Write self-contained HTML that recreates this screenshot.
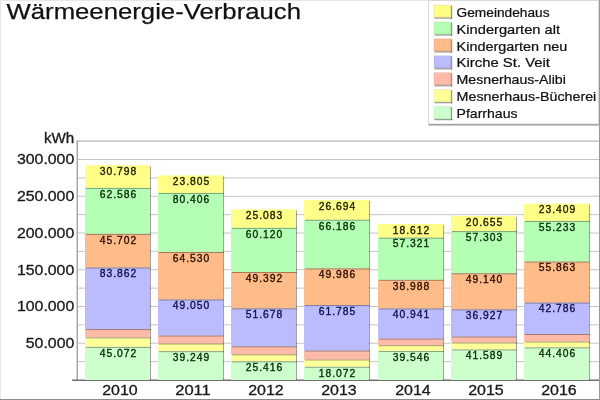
<!DOCTYPE html><html><head><meta charset="utf-8"><style>html,body{margin:0;padding:0;background:#fff;}svg{display:block;will-change:transform;}text{font-family:"Liberation Sans",sans-serif;}</style></head><body>
<svg width="600" height="400" viewBox="0 0 600 400">
<rect x="0" y="0" width="600" height="400" fill="#fff"/>
<rect x="0" y="0" width="600" height="1" fill="#e6e6e6"/>
<rect x="0" y="0" width="1" height="400" fill="#e6e6e6"/>
<rect x="599" y="0" width="1" height="400" fill="#999"/>
<rect x="0" y="399" width="600" height="1" fill="#8c8c8c"/>
<text x="6.5" y="19" font-size="22" fill="#111" stroke="#111" stroke-width="0.25" textLength="294.5" lengthAdjust="spacingAndGlyphs">Wärmeenergie-Verbrauch</text>
<rect x="77" y="140.5" width="522" height="1.2" fill="#b4b4b4"/>
<rect x="77" y="361.12" width="522" height="1" fill="#c6c6c6"/>
<rect x="77" y="342.75" width="522" height="1" fill="#c6c6c6"/>
<rect x="77" y="324.38" width="522" height="1" fill="#c6c6c6"/>
<rect x="77" y="306.00" width="522" height="1" fill="#c6c6c6"/>
<rect x="77" y="287.62" width="522" height="1" fill="#c6c6c6"/>
<rect x="77" y="269.25" width="522" height="1" fill="#c6c6c6"/>
<rect x="77" y="250.88" width="522" height="1" fill="#c6c6c6"/>
<rect x="77" y="232.50" width="522" height="1" fill="#c6c6c6"/>
<rect x="77" y="214.12" width="522" height="1" fill="#c6c6c6"/>
<rect x="77" y="195.75" width="522" height="1" fill="#c6c6c6"/>
<rect x="77" y="177.38" width="522" height="1" fill="#c6c6c6"/>
<rect x="77" y="159.00" width="522" height="1" fill="#c6c6c6"/>
<rect x="76.5" y="140.5" width="1.5" height="240" fill="#a8a8a8"/>
<rect x="72" y="379.5" width="527" height="1.5" fill="#707070"/>
<text x="74.3" y="348.05" font-size="14.2" fill="#1a1a1a" stroke="#1a1a1a" stroke-width="0.3" text-anchor="end" textLength="48.5" lengthAdjust="spacingAndGlyphs">50.000</text>
<text x="74.3" y="311.30" font-size="14.2" fill="#1a1a1a" stroke="#1a1a1a" stroke-width="0.3" text-anchor="end" textLength="57.4" lengthAdjust="spacingAndGlyphs">100.000</text>
<text x="74.3" y="274.55" font-size="14.2" fill="#1a1a1a" stroke="#1a1a1a" stroke-width="0.3" text-anchor="end" textLength="57.4" lengthAdjust="spacingAndGlyphs">150.000</text>
<text x="74.3" y="237.80" font-size="14.2" fill="#1a1a1a" stroke="#1a1a1a" stroke-width="0.3" text-anchor="end" textLength="57.4" lengthAdjust="spacingAndGlyphs">200.000</text>
<text x="74.3" y="201.05" font-size="14.2" fill="#1a1a1a" stroke="#1a1a1a" stroke-width="0.3" text-anchor="end" textLength="57.4" lengthAdjust="spacingAndGlyphs">250.000</text>
<text x="74.3" y="164.30" font-size="14.2" fill="#1a1a1a" stroke="#1a1a1a" stroke-width="0.3" text-anchor="end" textLength="57.4" lengthAdjust="spacingAndGlyphs">300.000</text>
<text x="74.3" y="142.7" font-size="14.2" fill="#1a1a1a" stroke="#1a1a1a" stroke-width="0.3" text-anchor="end" textLength="30.4" lengthAdjust="spacingAndGlyphs">kWh</text>
<rect x="85" y="346.87" width="65" height="33.13" fill="#ccffcc"/>
<rect x="85" y="337.40" width="65" height="9.47" fill="#ffff99"/>
<rect x="85" y="329.10" width="65" height="8.30" fill="#ffbba8"/>
<rect x="85" y="267.46" width="65" height="61.64" fill="#bbbbff"/>
<rect x="85" y="233.87" width="65" height="33.59" fill="#ffbb88"/>
<rect x="85" y="187.87" width="65" height="46.00" fill="#b4ffb4"/>
<rect x="85" y="165.23" width="65" height="22.64" fill="#ffff88"/>
<rect x="150" y="347.87" width="1" height="32.13" fill="#000" fill-opacity="0.36"/>
<rect x="86" y="346.87" width="65" height="1" fill="#000" fill-opacity="0.36"/>
<rect x="150" y="338.40" width="1" height="9.47" fill="#000" fill-opacity="0.36"/>
<rect x="86" y="337.40" width="65" height="1" fill="#000" fill-opacity="0.36"/>
<rect x="150" y="330.10" width="1" height="8.30" fill="#000" fill-opacity="0.36"/>
<rect x="86" y="329.10" width="65" height="1" fill="#000" fill-opacity="0.36"/>
<rect x="150" y="268.46" width="1" height="61.64" fill="#000" fill-opacity="0.36"/>
<rect x="86" y="267.46" width="65" height="1" fill="#000" fill-opacity="0.36"/>
<rect x="150" y="234.87" width="1" height="33.59" fill="#000" fill-opacity="0.36"/>
<rect x="86" y="233.87" width="65" height="1" fill="#000" fill-opacity="0.36"/>
<rect x="150" y="188.87" width="1" height="46.00" fill="#000" fill-opacity="0.36"/>
<rect x="86" y="187.87" width="65" height="1" fill="#000" fill-opacity="0.36"/>
<rect x="150" y="166.23" width="1" height="22.64" fill="#000" fill-opacity="0.36"/>
<text x="118" y="356.67" font-size="10.3" fill="#0a2a0a" stroke="#0a2a0a" stroke-width="0.35" text-anchor="middle" textLength="36.5" lengthAdjust="spacing">45.072</text>
<text x="118" y="277.26" font-size="10.3" fill="#10104a" stroke="#10104a" stroke-width="0.35" text-anchor="middle" textLength="36.5" lengthAdjust="spacing">83.862</text>
<text x="118" y="243.67" font-size="10.3" fill="#2a1000" stroke="#2a1000" stroke-width="0.35" text-anchor="middle" textLength="36.5" lengthAdjust="spacing">45.702</text>
<text x="118" y="197.67" font-size="10.3" fill="#0a2a0a" stroke="#0a2a0a" stroke-width="0.35" text-anchor="middle" textLength="36.5" lengthAdjust="spacing">62.586</text>
<text x="118" y="175.03" font-size="10.3" fill="#1a1a00" stroke="#1a1a00" stroke-width="0.35" text-anchor="middle" textLength="36.5" lengthAdjust="spacing">30.798</text>
<text x="120" y="395" font-size="14.2" fill="#1a1a1a" stroke="#1a1a1a" stroke-width="0.3" text-anchor="middle" textLength="35.5" lengthAdjust="spacingAndGlyphs">2010</text>
<rect x="158" y="351.15" width="65" height="28.85" fill="#ccffcc"/>
<rect x="158" y="343.50" width="65" height="7.65" fill="#ffff99"/>
<rect x="158" y="335.50" width="65" height="8.00" fill="#ffbba8"/>
<rect x="158" y="299.45" width="65" height="36.05" fill="#bbbbff"/>
<rect x="158" y="252.02" width="65" height="47.43" fill="#ffbb88"/>
<rect x="158" y="192.92" width="65" height="59.10" fill="#b4ffb4"/>
<rect x="158" y="175.42" width="65" height="17.50" fill="#ffff88"/>
<rect x="223" y="352.15" width="1" height="27.85" fill="#000" fill-opacity="0.36"/>
<rect x="159" y="351.15" width="65" height="1" fill="#000" fill-opacity="0.36"/>
<rect x="223" y="344.50" width="1" height="7.65" fill="#000" fill-opacity="0.36"/>
<rect x="159" y="343.50" width="65" height="1" fill="#000" fill-opacity="0.36"/>
<rect x="223" y="336.50" width="1" height="8.00" fill="#000" fill-opacity="0.36"/>
<rect x="159" y="335.50" width="65" height="1" fill="#000" fill-opacity="0.36"/>
<rect x="223" y="300.45" width="1" height="36.05" fill="#000" fill-opacity="0.36"/>
<rect x="159" y="299.45" width="65" height="1" fill="#000" fill-opacity="0.36"/>
<rect x="223" y="253.02" width="1" height="47.43" fill="#000" fill-opacity="0.36"/>
<rect x="159" y="252.02" width="65" height="1" fill="#000" fill-opacity="0.36"/>
<rect x="223" y="193.92" width="1" height="59.10" fill="#000" fill-opacity="0.36"/>
<rect x="159" y="192.92" width="65" height="1" fill="#000" fill-opacity="0.36"/>
<rect x="223" y="176.42" width="1" height="17.50" fill="#000" fill-opacity="0.36"/>
<text x="191" y="360.95" font-size="10.3" fill="#0a2a0a" stroke="#0a2a0a" stroke-width="0.35" text-anchor="middle" textLength="36.5" lengthAdjust="spacing">39.249</text>
<text x="191" y="309.25" font-size="10.3" fill="#10104a" stroke="#10104a" stroke-width="0.35" text-anchor="middle" textLength="36.5" lengthAdjust="spacing">49.050</text>
<text x="191" y="261.82" font-size="10.3" fill="#2a1000" stroke="#2a1000" stroke-width="0.35" text-anchor="middle" textLength="36.5" lengthAdjust="spacing">64.530</text>
<text x="191" y="202.72" font-size="10.3" fill="#0a2a0a" stroke="#0a2a0a" stroke-width="0.35" text-anchor="middle" textLength="36.5" lengthAdjust="spacing">80.406</text>
<text x="191" y="185.22" font-size="10.3" fill="#1a1a00" stroke="#1a1a00" stroke-width="0.35" text-anchor="middle" textLength="36.5" lengthAdjust="spacing">23.805</text>
<text x="193" y="395" font-size="14.2" fill="#1a1a1a" stroke="#1a1a1a" stroke-width="0.3" text-anchor="middle" textLength="35.5" lengthAdjust="spacingAndGlyphs">2011</text>
<rect x="231" y="361.32" width="65" height="18.68" fill="#ccffcc"/>
<rect x="231" y="354.30" width="65" height="7.02" fill="#ffff99"/>
<rect x="231" y="346.30" width="65" height="8.00" fill="#ffbba8"/>
<rect x="231" y="308.32" width="65" height="37.98" fill="#bbbbff"/>
<rect x="231" y="272.01" width="65" height="36.30" fill="#ffbb88"/>
<rect x="231" y="227.83" width="65" height="44.19" fill="#b4ffb4"/>
<rect x="231" y="209.39" width="65" height="18.44" fill="#ffff88"/>
<rect x="296" y="362.32" width="1" height="17.68" fill="#000" fill-opacity="0.36"/>
<rect x="232" y="361.32" width="65" height="1" fill="#000" fill-opacity="0.36"/>
<rect x="296" y="355.30" width="1" height="7.02" fill="#000" fill-opacity="0.36"/>
<rect x="232" y="354.30" width="65" height="1" fill="#000" fill-opacity="0.36"/>
<rect x="296" y="347.30" width="1" height="8.00" fill="#000" fill-opacity="0.36"/>
<rect x="232" y="346.30" width="65" height="1" fill="#000" fill-opacity="0.36"/>
<rect x="296" y="309.32" width="1" height="37.98" fill="#000" fill-opacity="0.36"/>
<rect x="232" y="308.32" width="65" height="1" fill="#000" fill-opacity="0.36"/>
<rect x="296" y="273.01" width="1" height="36.30" fill="#000" fill-opacity="0.36"/>
<rect x="232" y="272.01" width="65" height="1" fill="#000" fill-opacity="0.36"/>
<rect x="296" y="228.83" width="1" height="44.19" fill="#000" fill-opacity="0.36"/>
<rect x="232" y="227.83" width="65" height="1" fill="#000" fill-opacity="0.36"/>
<rect x="296" y="210.39" width="1" height="18.44" fill="#000" fill-opacity="0.36"/>
<text x="264" y="371.12" font-size="10.3" fill="#0a2a0a" stroke="#0a2a0a" stroke-width="0.35" text-anchor="middle" textLength="36.5" lengthAdjust="spacing">25.416</text>
<text x="264" y="318.12" font-size="10.3" fill="#10104a" stroke="#10104a" stroke-width="0.35" text-anchor="middle" textLength="36.5" lengthAdjust="spacing">51.678</text>
<text x="264" y="281.81" font-size="10.3" fill="#2a1000" stroke="#2a1000" stroke-width="0.35" text-anchor="middle" textLength="36.5" lengthAdjust="spacing">49.392</text>
<text x="264" y="237.63" font-size="10.3" fill="#0a2a0a" stroke="#0a2a0a" stroke-width="0.35" text-anchor="middle" textLength="36.5" lengthAdjust="spacing">60.120</text>
<text x="264" y="219.19" font-size="10.3" fill="#1a1a00" stroke="#1a1a00" stroke-width="0.35" text-anchor="middle" textLength="36.5" lengthAdjust="spacing">25.083</text>
<text x="266" y="395" font-size="14.2" fill="#1a1a1a" stroke="#1a1a1a" stroke-width="0.3" text-anchor="middle" textLength="35.5" lengthAdjust="spacingAndGlyphs">2012</text>
<rect x="304" y="366.72" width="65" height="13.28" fill="#ccffcc"/>
<rect x="304" y="359.50" width="65" height="7.22" fill="#ffff99"/>
<rect x="304" y="350.50" width="65" height="9.00" fill="#ffbba8"/>
<rect x="304" y="305.09" width="65" height="45.41" fill="#bbbbff"/>
<rect x="304" y="268.35" width="65" height="36.74" fill="#ffbb88"/>
<rect x="304" y="219.70" width="65" height="48.65" fill="#b4ffb4"/>
<rect x="304" y="200.08" width="65" height="19.62" fill="#ffff88"/>
<rect x="369" y="367.72" width="1" height="12.28" fill="#000" fill-opacity="0.36"/>
<rect x="305" y="366.72" width="65" height="1" fill="#000" fill-opacity="0.36"/>
<rect x="369" y="360.50" width="1" height="7.22" fill="#000" fill-opacity="0.36"/>
<rect x="305" y="359.50" width="65" height="1" fill="#000" fill-opacity="0.36"/>
<rect x="369" y="351.50" width="1" height="9.00" fill="#000" fill-opacity="0.36"/>
<rect x="305" y="350.50" width="65" height="1" fill="#000" fill-opacity="0.36"/>
<rect x="369" y="306.09" width="1" height="45.41" fill="#000" fill-opacity="0.36"/>
<rect x="305" y="305.09" width="65" height="1" fill="#000" fill-opacity="0.36"/>
<rect x="369" y="269.35" width="1" height="36.74" fill="#000" fill-opacity="0.36"/>
<rect x="305" y="268.35" width="65" height="1" fill="#000" fill-opacity="0.36"/>
<rect x="369" y="220.70" width="1" height="48.65" fill="#000" fill-opacity="0.36"/>
<rect x="305" y="219.70" width="65" height="1" fill="#000" fill-opacity="0.36"/>
<rect x="369" y="201.08" width="1" height="19.62" fill="#000" fill-opacity="0.36"/>
<text x="337" y="376.52" font-size="10.3" fill="#0a2a0a" stroke="#0a2a0a" stroke-width="0.35" text-anchor="middle" textLength="36.5" lengthAdjust="spacing">18.072</text>
<text x="337" y="314.89" font-size="10.3" fill="#10104a" stroke="#10104a" stroke-width="0.35" text-anchor="middle" textLength="36.5" lengthAdjust="spacing">61.785</text>
<text x="337" y="278.15" font-size="10.3" fill="#2a1000" stroke="#2a1000" stroke-width="0.35" text-anchor="middle" textLength="36.5" lengthAdjust="spacing">49.986</text>
<text x="337" y="229.50" font-size="10.3" fill="#0a2a0a" stroke="#0a2a0a" stroke-width="0.35" text-anchor="middle" textLength="36.5" lengthAdjust="spacing">66.186</text>
<text x="337" y="209.88" font-size="10.3" fill="#1a1a00" stroke="#1a1a00" stroke-width="0.35" text-anchor="middle" textLength="36.5" lengthAdjust="spacing">26.694</text>
<text x="339" y="395" font-size="14.2" fill="#1a1a1a" stroke="#1a1a1a" stroke-width="0.3" text-anchor="middle" textLength="35.5" lengthAdjust="spacingAndGlyphs">2013</text>
<rect x="378" y="350.93" width="65" height="29.07" fill="#ccffcc"/>
<rect x="378" y="345.20" width="65" height="5.73" fill="#ffff99"/>
<rect x="378" y="338.50" width="65" height="6.70" fill="#ffbba8"/>
<rect x="378" y="308.41" width="65" height="30.09" fill="#bbbbff"/>
<rect x="378" y="279.75" width="65" height="28.66" fill="#ffbb88"/>
<rect x="378" y="237.62" width="65" height="42.13" fill="#b4ffb4"/>
<rect x="378" y="223.94" width="65" height="13.68" fill="#ffff88"/>
<rect x="443" y="351.93" width="1" height="28.07" fill="#000" fill-opacity="0.36"/>
<rect x="379" y="350.93" width="65" height="1" fill="#000" fill-opacity="0.36"/>
<rect x="443" y="346.20" width="1" height="5.73" fill="#000" fill-opacity="0.36"/>
<rect x="379" y="345.20" width="65" height="1" fill="#000" fill-opacity="0.36"/>
<rect x="443" y="339.50" width="1" height="6.70" fill="#000" fill-opacity="0.36"/>
<rect x="379" y="338.50" width="65" height="1" fill="#000" fill-opacity="0.36"/>
<rect x="443" y="309.41" width="1" height="30.09" fill="#000" fill-opacity="0.36"/>
<rect x="379" y="308.41" width="65" height="1" fill="#000" fill-opacity="0.36"/>
<rect x="443" y="280.75" width="1" height="28.66" fill="#000" fill-opacity="0.36"/>
<rect x="379" y="279.75" width="65" height="1" fill="#000" fill-opacity="0.36"/>
<rect x="443" y="238.62" width="1" height="42.13" fill="#000" fill-opacity="0.36"/>
<rect x="379" y="237.62" width="65" height="1" fill="#000" fill-opacity="0.36"/>
<rect x="443" y="224.94" width="1" height="13.68" fill="#000" fill-opacity="0.36"/>
<text x="411" y="360.73" font-size="10.3" fill="#0a2a0a" stroke="#0a2a0a" stroke-width="0.35" text-anchor="middle" textLength="36.5" lengthAdjust="spacing">39.546</text>
<text x="411" y="318.21" font-size="10.3" fill="#10104a" stroke="#10104a" stroke-width="0.35" text-anchor="middle" textLength="36.5" lengthAdjust="spacing">40.941</text>
<text x="411" y="289.55" font-size="10.3" fill="#2a1000" stroke="#2a1000" stroke-width="0.35" text-anchor="middle" textLength="36.5" lengthAdjust="spacing">38.988</text>
<text x="411" y="247.42" font-size="10.3" fill="#0a2a0a" stroke="#0a2a0a" stroke-width="0.35" text-anchor="middle" textLength="36.5" lengthAdjust="spacing">57.321</text>
<text x="411" y="233.74" font-size="10.3" fill="#1a1a00" stroke="#1a1a00" stroke-width="0.35" text-anchor="middle" textLength="36.5" lengthAdjust="spacing">18.612</text>
<text x="413" y="395" font-size="14.2" fill="#1a1a1a" stroke="#1a1a1a" stroke-width="0.3" text-anchor="middle" textLength="35.5" lengthAdjust="spacingAndGlyphs">2014</text>
<rect x="451" y="349.43" width="65" height="30.57" fill="#ccffcc"/>
<rect x="451" y="342.50" width="65" height="6.93" fill="#ffff99"/>
<rect x="451" y="336.50" width="65" height="6.00" fill="#ffbba8"/>
<rect x="451" y="309.36" width="65" height="27.14" fill="#bbbbff"/>
<rect x="451" y="273.24" width="65" height="36.12" fill="#ffbb88"/>
<rect x="451" y="231.12" width="65" height="42.12" fill="#b4ffb4"/>
<rect x="451" y="215.94" width="65" height="15.18" fill="#ffff88"/>
<rect x="516" y="350.43" width="1" height="29.57" fill="#000" fill-opacity="0.36"/>
<rect x="452" y="349.43" width="65" height="1" fill="#000" fill-opacity="0.36"/>
<rect x="516" y="343.50" width="1" height="6.93" fill="#000" fill-opacity="0.36"/>
<rect x="452" y="342.50" width="65" height="1" fill="#000" fill-opacity="0.36"/>
<rect x="516" y="337.50" width="1" height="6.00" fill="#000" fill-opacity="0.36"/>
<rect x="452" y="336.50" width="65" height="1" fill="#000" fill-opacity="0.36"/>
<rect x="516" y="310.36" width="1" height="27.14" fill="#000" fill-opacity="0.36"/>
<rect x="452" y="309.36" width="65" height="1" fill="#000" fill-opacity="0.36"/>
<rect x="516" y="274.24" width="1" height="36.12" fill="#000" fill-opacity="0.36"/>
<rect x="452" y="273.24" width="65" height="1" fill="#000" fill-opacity="0.36"/>
<rect x="516" y="232.12" width="1" height="42.12" fill="#000" fill-opacity="0.36"/>
<rect x="452" y="231.12" width="65" height="1" fill="#000" fill-opacity="0.36"/>
<rect x="516" y="216.94" width="1" height="15.18" fill="#000" fill-opacity="0.36"/>
<text x="484" y="359.23" font-size="10.3" fill="#0a2a0a" stroke="#0a2a0a" stroke-width="0.35" text-anchor="middle" textLength="36.5" lengthAdjust="spacing">41.589</text>
<text x="484" y="319.16" font-size="10.3" fill="#10104a" stroke="#10104a" stroke-width="0.35" text-anchor="middle" textLength="36.5" lengthAdjust="spacing">36.927</text>
<text x="484" y="283.04" font-size="10.3" fill="#2a1000" stroke="#2a1000" stroke-width="0.35" text-anchor="middle" textLength="36.5" lengthAdjust="spacing">49.140</text>
<text x="484" y="240.92" font-size="10.3" fill="#0a2a0a" stroke="#0a2a0a" stroke-width="0.35" text-anchor="middle" textLength="36.5" lengthAdjust="spacing">57.303</text>
<text x="484" y="225.74" font-size="10.3" fill="#1a1a00" stroke="#1a1a00" stroke-width="0.35" text-anchor="middle" textLength="36.5" lengthAdjust="spacing">20.655</text>
<text x="486" y="395" font-size="14.2" fill="#1a1a1a" stroke="#1a1a1a" stroke-width="0.3" text-anchor="middle" textLength="35.5" lengthAdjust="spacingAndGlyphs">2015</text>
<rect x="524" y="347.36" width="65" height="32.64" fill="#ccffcc"/>
<rect x="524" y="341.50" width="65" height="5.86" fill="#ffff99"/>
<rect x="524" y="334.00" width="65" height="7.50" fill="#ffbba8"/>
<rect x="524" y="302.55" width="65" height="31.45" fill="#bbbbff"/>
<rect x="524" y="261.49" width="65" height="41.06" fill="#ffbb88"/>
<rect x="524" y="220.90" width="65" height="40.60" fill="#b4ffb4"/>
<rect x="524" y="203.69" width="65" height="17.21" fill="#ffff88"/>
<rect x="589" y="348.36" width="1" height="31.64" fill="#000" fill-opacity="0.36"/>
<rect x="525" y="347.36" width="65" height="1" fill="#000" fill-opacity="0.36"/>
<rect x="589" y="342.50" width="1" height="5.86" fill="#000" fill-opacity="0.36"/>
<rect x="525" y="341.50" width="65" height="1" fill="#000" fill-opacity="0.36"/>
<rect x="589" y="335.00" width="1" height="7.50" fill="#000" fill-opacity="0.36"/>
<rect x="525" y="334.00" width="65" height="1" fill="#000" fill-opacity="0.36"/>
<rect x="589" y="303.55" width="1" height="31.45" fill="#000" fill-opacity="0.36"/>
<rect x="525" y="302.55" width="65" height="1" fill="#000" fill-opacity="0.36"/>
<rect x="589" y="262.49" width="1" height="41.06" fill="#000" fill-opacity="0.36"/>
<rect x="525" y="261.49" width="65" height="1" fill="#000" fill-opacity="0.36"/>
<rect x="589" y="221.90" width="1" height="40.60" fill="#000" fill-opacity="0.36"/>
<rect x="525" y="220.90" width="65" height="1" fill="#000" fill-opacity="0.36"/>
<rect x="589" y="204.69" width="1" height="17.21" fill="#000" fill-opacity="0.36"/>
<text x="557" y="357.16" font-size="10.3" fill="#0a2a0a" stroke="#0a2a0a" stroke-width="0.35" text-anchor="middle" textLength="36.5" lengthAdjust="spacing">44.406</text>
<text x="557" y="312.35" font-size="10.3" fill="#10104a" stroke="#10104a" stroke-width="0.35" text-anchor="middle" textLength="36.5" lengthAdjust="spacing">42.786</text>
<text x="557" y="271.29" font-size="10.3" fill="#2a1000" stroke="#2a1000" stroke-width="0.35" text-anchor="middle" textLength="36.5" lengthAdjust="spacing">55.863</text>
<text x="557" y="230.70" font-size="10.3" fill="#0a2a0a" stroke="#0a2a0a" stroke-width="0.35" text-anchor="middle" textLength="36.5" lengthAdjust="spacing">55.233</text>
<text x="557" y="213.49" font-size="10.3" fill="#1a1a00" stroke="#1a1a00" stroke-width="0.35" text-anchor="middle" textLength="36.5" lengthAdjust="spacing">23.409</text>
<text x="559" y="395" font-size="14.2" fill="#1a1a1a" stroke="#1a1a1a" stroke-width="0.3" text-anchor="middle" textLength="35.5" lengthAdjust="spacingAndGlyphs">2016</text>
<rect x="428.5" y="0.5" width="170" height="123.5" fill="#fff" stroke="#d8d8d8" stroke-width="1"/>
<rect x="428.5" y="124" width="171" height="1.6" fill="#a4a4a4"/>
<rect x="434" y="5.00" width="17" height="12.5" fill="#ffff88"/>
<rect x="434" y="5.00" width="16.5" height="12" fill="none" stroke="#000" stroke-opacity="0.12" stroke-width="0.6"/>
<rect x="451" y="5.50" width="1.2" height="13.2" fill="#000" fill-opacity="0.4"/>
<rect x="434.5" y="17.50" width="17.7" height="1.2" fill="#000" fill-opacity="0.4"/>
<text x="456.6" y="16.70" font-size="12.4" fill="#111" stroke="#111" stroke-width="0.22" textLength="92.9" lengthAdjust="spacingAndGlyphs">Gemeindehaus</text>
<rect x="434" y="21.92" width="17" height="12.5" fill="#b4ffb4"/>
<rect x="434" y="21.92" width="16.5" height="12" fill="none" stroke="#000" stroke-opacity="0.12" stroke-width="0.6"/>
<rect x="451" y="22.42" width="1.2" height="13.2" fill="#000" fill-opacity="0.4"/>
<rect x="434.5" y="34.42" width="17.7" height="1.2" fill="#000" fill-opacity="0.4"/>
<text x="456.6" y="33.63" font-size="12.4" fill="#111" stroke="#111" stroke-width="0.22" textLength="103.4" lengthAdjust="spacingAndGlyphs">Kindergarten alt</text>
<rect x="434" y="38.84" width="17" height="12.5" fill="#ffbb88"/>
<rect x="434" y="38.84" width="16.5" height="12" fill="none" stroke="#000" stroke-opacity="0.12" stroke-width="0.6"/>
<rect x="451" y="39.34" width="1.2" height="13.2" fill="#000" fill-opacity="0.4"/>
<rect x="434.5" y="51.34" width="17.7" height="1.2" fill="#000" fill-opacity="0.4"/>
<text x="456.6" y="50.56" font-size="12.4" fill="#111" stroke="#111" stroke-width="0.22" textLength="110.6" lengthAdjust="spacingAndGlyphs">Kindergarten neu</text>
<rect x="434" y="55.76" width="17" height="12.5" fill="#bbbbff"/>
<rect x="434" y="55.76" width="16.5" height="12" fill="none" stroke="#000" stroke-opacity="0.12" stroke-width="0.6"/>
<rect x="451" y="56.26" width="1.2" height="13.2" fill="#000" fill-opacity="0.4"/>
<rect x="434.5" y="68.26" width="17.7" height="1.2" fill="#000" fill-opacity="0.4"/>
<text x="456.6" y="67.49" font-size="12.4" fill="#111" stroke="#111" stroke-width="0.22" textLength="93.4" lengthAdjust="spacingAndGlyphs">Kirche St. Veit</text>
<rect x="434" y="72.68" width="17" height="12.5" fill="#ffbba8"/>
<rect x="434" y="72.68" width="16.5" height="12" fill="none" stroke="#000" stroke-opacity="0.12" stroke-width="0.6"/>
<rect x="451" y="73.18" width="1.2" height="13.2" fill="#000" fill-opacity="0.4"/>
<rect x="434.5" y="85.18" width="17.7" height="1.2" fill="#000" fill-opacity="0.4"/>
<text x="456.6" y="84.42" font-size="12.4" fill="#111" stroke="#111" stroke-width="0.22" textLength="109.2" lengthAdjust="spacingAndGlyphs">Mesnerhaus-Alibi</text>
<rect x="434" y="89.60" width="17" height="12.5" fill="#ffff99"/>
<rect x="434" y="89.60" width="16.5" height="12" fill="none" stroke="#000" stroke-opacity="0.12" stroke-width="0.6"/>
<rect x="451" y="90.10" width="1.2" height="13.2" fill="#000" fill-opacity="0.4"/>
<rect x="434.5" y="102.10" width="17.7" height="1.2" fill="#000" fill-opacity="0.4"/>
<text x="456.6" y="101.35" font-size="12.4" fill="#111" stroke="#111" stroke-width="0.22" textLength="139.7" lengthAdjust="spacingAndGlyphs">Mesnerhaus-Bücherei</text>
<rect x="434" y="106.52" width="17" height="12.5" fill="#ccffcc"/>
<rect x="434" y="106.52" width="16.5" height="12" fill="none" stroke="#000" stroke-opacity="0.12" stroke-width="0.6"/>
<rect x="451" y="107.02" width="1.2" height="13.2" fill="#000" fill-opacity="0.4"/>
<rect x="434.5" y="119.02" width="17.7" height="1.2" fill="#000" fill-opacity="0.4"/>
<text x="456.6" y="118.28" font-size="12.4" fill="#111" stroke="#111" stroke-width="0.22" textLength="60.9" lengthAdjust="spacingAndGlyphs">Pfarrhaus</text>
</svg></body></html>
